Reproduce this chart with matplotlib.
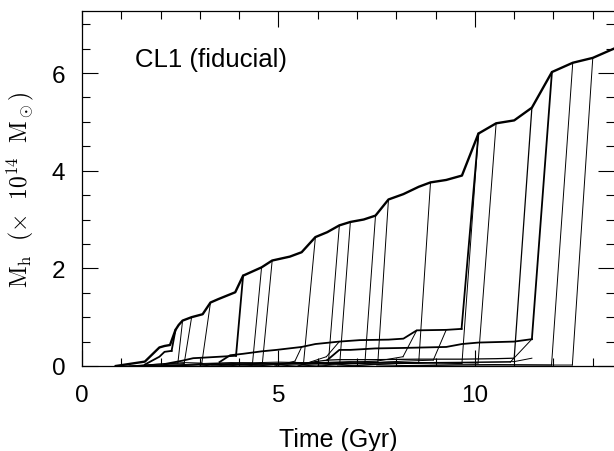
import numpy as np
import matplotlib
matplotlib.use("Agg")
import matplotlib.pyplot as plt

plt.rcParams['font.family'] = ['Liberation Sans', 'DejaVu Sans']
plt.rcParams['mathtext.fontset'] = 'cm'

# ---------------- data ----------------
# main progenitor branch
t_main = [0.86, 1.6, 1.97, 2.1, 2.24, 2.38, 2.46, 2.56, 2.79, 3.07, 3.27, 3.47, 3.9, 4.1,
          4.57, 4.84, 5.29, 5.59, 5.94, 6.24, 6.55, 6.83, 7.17, 7.47, 7.8, 8.18, 8.57, 8.87,
          9.27, 9.67, 10.09, 10.54, 11.0, 11.45, 11.96, 12.49, 13.0, 13.54]
m_main = [0.0, 0.09, 0.38, 0.41, 0.43, 0.74, 0.84, 0.93, 1.0, 1.06, 1.3, 1.37, 1.51, 1.85,
          2.02, 2.16, 2.24, 2.33, 2.64, 2.74, 2.88, 2.95, 3.0, 3.08, 3.41, 3.52, 3.67, 3.76,
          3.81, 3.9, 4.76, 4.97, 5.03, 5.29, 6.02, 6.21, 6.31, 6.5]

# secondary branches (t, m) ; merge target ; merge time on target
t_a = [3.5, 3.77, 4.1, 4.57, 4.95, 5.59, 5.94, 6.55, 7.07, 7.8, 8.18, 8.52, 9.27, 9.66]
m_a = [0.08, 0.22, 0.25, 0.3, 0.33, 0.39, 0.45, 0.5, 0.53, 0.54, 0.56, 0.73, 0.74, 0.76]
t_b = [6.24, 6.55, 6.83, 7.47, 8.18, 9.27, 9.67, 10.09, 11.0, 11.45]
m_b = [0.12, 0.33, 0.33, 0.36, 0.37, 0.39, 0.45, 0.48, 0.5, 0.55]
t_c = [5.59, 5.94, 6.24, 6.55, 7.47, 8.57, 9.67, 10.54, 11.0]
m_c = [0.04, 0.09, 0.12, 0.13, 0.13, 0.14, 0.14, 0.15, 0.16]
t_d = [2.1, 2.56, 2.83, 3.07, 3.5, 3.92]
m_d = [0.04, 0.11, 0.16, 0.17, 0.19, 0.21]
t_e = [1.6, 1.97, 2.1, 2.28]
m_e = [0.03, 0.19, 0.29, 0.31]

branches = {
    'A': (t_a, m_a, 'main', 10.09),
    'B': (t_b, m_b, 'main', 11.96),
    'C': (t_c, m_c, 'main', 11.45),
    'D': (t_d, m_d, 'main', 4.1),
    'E': (t_e, m_e, 'main', 2.38),
}

# small progenitors forming the crowded band near zero
small_t = [
    [1.3, 1.8, 2.44], [1.5, 2.1, 2.6], [1.2, 1.95, 2.6, 3.05], [2.0, 3.0, 3.8, 4.34],
    [2.4, 3.3, 4.1, 4.59], [3.0, 4.0, 5.0, 5.64], [3.3, 4.5, 5.5, 6.27], [3.6, 4.8, 5.8, 6.56],
    [4.0, 5.5, 6.5, 7.2], [4.4, 5.6, 6.8, 7.53], [5.0, 6.3, 7.5, 8.17], [5.5, 6.8, 7.8, 8.57],
    [6.0, 7.2, 8.2, 8.94], [6.5, 7.6, 8.8, 9.67], [6.8, 8.0, 9.2, 10.08], [7.5, 9.0, 10.5, 11.95],
    [8.0, 9.5, 11.0, 12.48], [4.9, 5.42], [5.5, 6.22], [1.0, 2.5, 4.0, 5.5, 7.0, 8.5, 10.0, 11.0],
    [1.8, 3.5, 5.0, 6.5, 8.0, 9.5, 10.9],
]
small_m = [
    [0.0, 0.03, 0.06], [0.0, 0.03, 0.05], [0.0, 0.04, 0.07, 0.06], [0.0, 0.05, 0.07, 0.06],
    [0.0, 0.05, 0.06, 0.05], [0.0, 0.06, 0.08, 0.07], [0.0, 0.05, 0.07, 0.06], [0.0, 0.05, 0.06, 0.05],
    [0.0, 0.05, 0.07, 0.06], [0.0, 0.06, 0.09, 0.08], [0.0, 0.06, 0.1, 0.19], [0.0, 0.05, 0.08, 0.07],
    [0.0, 0.06, 0.1, 0.12], [0.0, 0.04, 0.06, 0.05], [0.0, 0.05, 0.07, 0.06], [0.0, 0.02, 0.03, 0.02],
    [0.0, 0.02, 0.02, 0.02], [0.0, 0.1], [0.0, 0.19], [0.0, 0.02, 0.04, 0.05, 0.06, 0.07, 0.08, 0.09],
    [0.0, 0.03, 0.04, 0.05, 0.06, 0.07, 0.08],
]
small_target = ['main', 'main', 'main', 'main', 'main', 'main', 'main', 'main', 'main', 'main',
                'A', 'main', 'A', 'main', 'main', 'main', 'main', 'A', 'A', 'C', 'B']
small_tmerge = [2.56, 2.79, 3.27, 4.57, 4.84, 5.94, 6.55, 6.83, 7.47, 7.8, 8.52, 8.87, 9.27,
                10.09, 10.54, 12.49, 13.0, 5.59, 6.55, 11.45, 11.45]

label_text = 'CL1 (fiducial)'
xticks_major = [0, 5, 10]
yticks_major = [0, 2, 4, 6]

# ---------------- figure ----------------
fig = plt.figure(figsize=(6.14, 4.52), dpi=100)
ax = fig.add_axes([82 / 614, 85 / 452, 532 / 614, 355 / 452])

curves = {'main': (t_main, m_main)}
for k, v in branches.items():
    curves[k] = (v[0], v[1])


def target_value(name, t):
    tt, mm = curves[name]
    return float(np.interp(t, tt, mm))


# small progenitors
for tt, mm, tg, tm in zip(small_t, small_m, small_target, small_tmerge):
    ax.plot(tt, mm, color='black', lw=0.7)
    ax.plot([tt[-1], tm], [mm[-1], target_value(tg, tm)], color='black', lw=0.7)

# secondary branches
for k, (tt, mm, tg, tm) in branches.items():
    lw = 1.3 if k in ('A', 'B', 'D', 'E') else 0.9
    ax.plot(tt, mm, color='black', lw=lw)
    ax.plot([tt[-1], tm], [mm[-1], target_value(tg, tm)], color='black', lw=lw)

# main branch
ax.plot(t_main, m_main, color='black', lw=1.7)

ax.set_xlim(0, 13.54)
ax.set_ylim(0, 7.27)
ax.set_xticks(xticks_major)
ax.set_yticks(yticks_major)
ax.set_xticks(np.arange(0, 14, 1), minor=True)
ax.set_yticks(np.arange(0, 7.5, 0.5), minor=True)
ax.tick_params(which='both', direction='in', top=True, right=True, labelsize=17.5, width=0.8)
ax.tick_params(which='major', length=11.5)
ax.tick_params(which='minor', length=5.5)
ax.tick_params(axis='x', which='major', pad=13)
ax.tick_params(axis='y', which='major', pad=12)
ax.spines['right'].set_visible(False)
for s in ('left', 'top', 'bottom'):
    ax.spines[s].set_linewidth(0.9)

ax.set_xlabel('Time (Gyr)', fontsize=18)
ax.xaxis.set_label_coords(256 / 532, -0.172)
ax.set_ylabel(r'$\mathrm{M_h}\ \ (\times\ \ 10^{14}\ \ \mathrm{M_\odot})$', fontsize=17)
ax.yaxis.set_label_coords(-46 / 532, 0.5)

ax.text(1.35, 6.14, label_text, fontsize=18.5, va='baseline', ha='left')

fig.savefig('out.png', dpi=100)
